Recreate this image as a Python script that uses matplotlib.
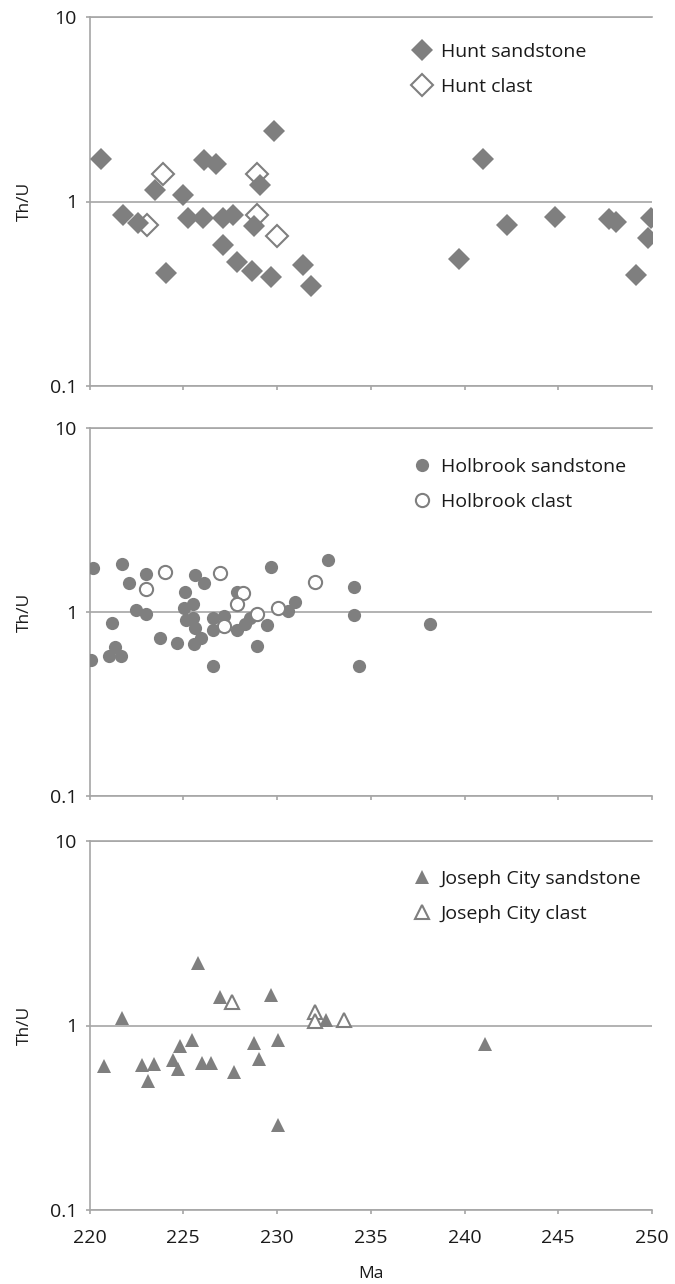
import matplotlib
matplotlib.use('Agg')
import matplotlib.pyplot as plt
from matplotlib.ticker import FixedLocator, NullLocator, FuncFormatter

plt.rcParams['font.family'] = ['Open Sans', 'DejaVu Sans']

# Hunt
hunt_sand_age = [220.6, 221.77, 222.57, 223.5, 224.07, 224.97, 225.27, 226.04, 226.11, 226.73,
                 227.1, 227.1, 227.67, 227.89, 228.69, 228.78, 229.1, 229.67, 229.85, 231.41,
                 231.8, 239.68, 240.98, 242.26, 244.84, 247.68, 248.1, 249.16, 249.77, 249.95]
hunt_sand_thu = [1.71, 0.85, 0.76, 1.16, 0.41, 1.09, 0.815, 0.815, 1.67, 1.60,
                 0.815, 0.58, 0.85, 0.47, 0.42, 0.74, 1.23, 0.39, 2.4, 0.45,
                 0.35, 0.49, 1.69, 0.75, 0.82, 0.80, 0.77, 0.40, 0.635, 0.815]
hunt_clast_age = [223.05, 223.94, 228.92, 228.92, 229.99]
hunt_clast_thu = [0.75, 1.41, 1.41, 0.84, 0.65]

# Holbrook
holb_sand_age = [220.17, 221.72, 222.1, 223.0, 222.48, 223.0, 221.18, 221.36, 221.06, 221.66,
                 220.08, 223.76, 224.65, 225.1, 225.04, 225.51, 225.63, 226.13, 225.15, 225.54,
                 225.63, 225.93, 225.58, 226.6, 226.57, 227.18, 226.6, 227.89, 227.85, 228.3,
                 228.56, 228.92, 229.46, 229.67, 230.61, 230.97, 232.74, 234.11, 234.08, 234.35,
                 238.17]
holb_sand_thu = [1.74, 1.83, 1.44, 1.61, 1.03, 0.98, 0.87, 0.645, 0.58, 0.58,
                 0.55, 0.725, 0.68, 1.28, 1.05, 1.11, 1.58, 1.43, 0.90, 0.93,
                 0.82, 0.72, 0.67, 0.93, 0.80, 0.95, 0.51, 1.28, 0.80, 0.86,
                 0.93, 0.65, 0.85, 1.76, 1.01, 1.13, 1.91, 1.36, 0.96, 0.51,
                 0.86]
holb_clast_age = [224.03, 223.01, 226.96, 228.17, 227.89, 227.18, 228.92, 230.07, 232.03]
holb_clast_thu = [1.66, 1.33, 1.62, 1.27, 1.10, 0.84, 0.98, 1.05, 1.46]

# Joseph City
jc_sand_age = [220.79, 221.72, 222.79, 223.1, 223.46, 224.44, 224.83, 224.71, 225.49, 225.77,
               226.02, 226.47, 226.96, 227.73, 228.78, 229.05, 229.67, 230.07, 230.07, 232.62,
               241.07]
jc_sand_thu = [0.60, 1.10, 0.61, 0.50, 0.62, 0.65, 0.77, 0.58, 0.83, 2.19,
               0.63, 0.63, 1.43, 0.56, 0.80, 0.66, 1.47, 0.83, 0.29, 1.07,
               0.79]
jc_clast_age = [227.59, 232.0, 232.0, 233.58]
jc_clast_thu = [1.34, 1.18, 1.06, 1.07]

x_ticks = [220, 225, 230, 235, 240, 245, 250]
y_ticks = [0.1, 1, 10]

grey = '#7f7f7f'
axis_grey = '#a6a6a6'
text_col = '#1a1a1a'
tick_fs = 14
label_fs = 12.5

fig = plt.figure(figsize=(6.75, 12.84), dpi=100)
W, H = 675.0, 1284.0
x0, x1 = 89.5, 652.0


def make_axes(top, bottom):
    return fig.add_axes([x0 / W, 1 - bottom / H, (x1 - x0) / W, (bottom - top) / H])


def style(ax, show_x):
    ax.set_yscale('log')
    ax.set_xlim(220, 250)
    ax.set_ylim(0.1, 10)
    ax.xaxis.set_major_locator(FixedLocator(x_ticks))
    ax.yaxis.set_major_locator(FixedLocator(y_ticks))
    ax.yaxis.set_minor_locator(NullLocator())
    ax.yaxis.set_major_formatter(FuncFormatter(lambda v, p: '{:g}'.format(v)))
    ax.spines['right'].set_visible(False)
    for side in ['left', 'bottom', 'top']:
        ax.spines[side].set_color(axis_grey)
        ax.spines[side].set_linewidth(1.2)
    ax.yaxis.grid(True, color=axis_grey, linewidth=1.2)
    ax.set_axisbelow(True)
    ax.tick_params(axis='both', direction='out', length=3, width=1.2, color=axis_grey,
                   labelsize=tick_fs, labelcolor=text_col)
    ax.tick_params(axis='y', pad=6)
    ax.tick_params(axis='x', pad=10.5, labelbottom=show_x)
    ax.set_ylabel('Th/U', fontsize=label_fs, color=text_col, labelpad=12)


def add_legend(ax, y_anchor, order=(0, 1)):
    h, l = ax.get_legend_handles_labels()
    ax.legend([h[i] for i in order], [l[i] for i in order],
              loc='upper left', bbox_to_anchor=(0.574, y_anchor), frameon=False,
              borderaxespad=0, borderpad=0, handlelength=1.0, handletextpad=0.46,
              labelspacing=0.87, fontsize=tick_fs, labelcolor=text_col)


# Hunt panel: clasts drawn underneath the sandstone grains
ax1 = make_axes(17, 386)
ax1.plot(hunt_clast_age, hunt_clast_thu, 'D', ms=11, mfc='white', mec=grey, mew=1.5,
         label='Hunt clast', zorder=3)
ax1.plot(hunt_sand_age, hunt_sand_thu, 'D', ms=11, mfc=grey, mec=grey, mew=0,
         label='Hunt sandstone', zorder=4)
style(ax1, False)
add_legend(ax1, 0.9295, order=(1, 0))

# Holbrook panel
ax2 = make_axes(428, 796)
ax2.plot(holb_sand_age, holb_sand_thu, 'o', ms=9.5, mfc=grey, mec=grey, mew=0,
         label='Holbrook sandstone', zorder=3)
ax2.plot(holb_clast_age, holb_clast_thu, 'o', ms=9.5, mfc='white', mec=grey, mew=1.5,
         label='Holbrook clast', zorder=4)
style(ax2, False)
add_legend(ax2, 0.918)

# Joseph City panel
ax3 = make_axes(841, 1210)
ax3.plot(jc_sand_age, jc_sand_thu, '^', ms=10, mfc=grey, mec=grey, mew=0,
         label='Joseph City sandstone', zorder=3)
ax3.plot(jc_clast_age, jc_clast_thu, '^', ms=10, mfc='white', mec=grey, mew=1.5,
         label='Joseph City clast', zorder=4)
style(ax3, True)
add_legend(ax3, 0.921)
ax3.set_xlabel('Ma', fontsize=label_fs, color=text_col, labelpad=14)

fig.savefig('out.png', dpi=100)
